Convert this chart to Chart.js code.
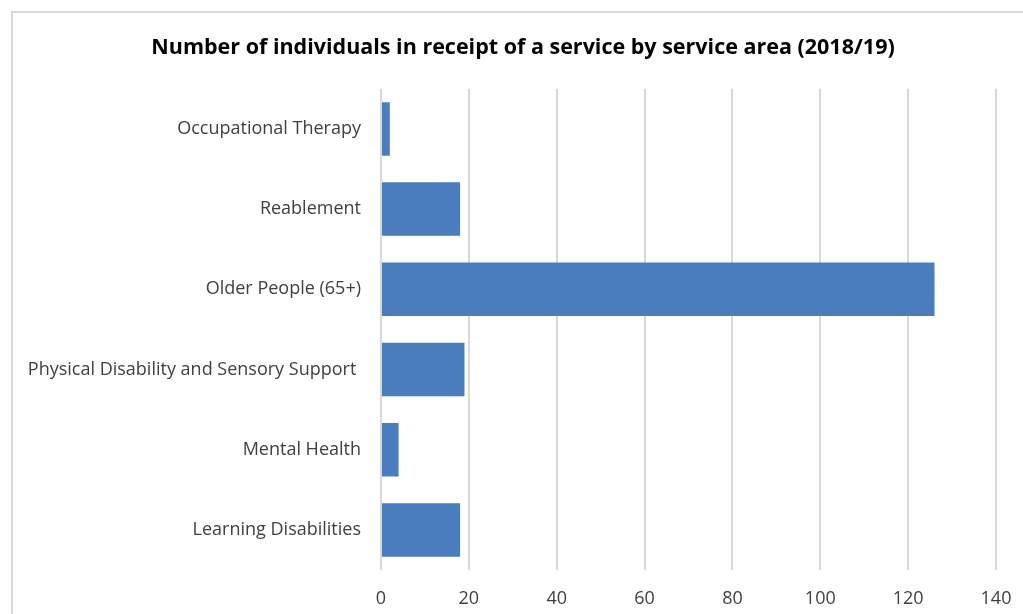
<!DOCTYPE html>
<html>
<head>
<meta charset="utf-8">
<script src="https://cdn.jsdelivr.net/npm/chart.js@4/dist/chart.umd.min.js"></script>
<style>
  html, body { margin: 0; padding: 0; background: #fff; }
  #wrap { position: relative; width: 1023px; height: 614px; }
</style>
</head>
<body>
<div id="wrap"><canvas id="serviceChart"></canvas></div>
<script>
const areas = [
    'Occupational Therapy',
    'Reablement',
    'Older People (65+)',
    'Physical Disability and Sensory Support ',
    'Mental Health',
    'Learning Disabilities'
];
const individuals = [2, 18, 126, 19, 4, 18];
const xTicks = [0, 20, 40, 60, 80, 100, 120, 140];

const fontFamily = '"Open Sans", "Liberation Sans", sans-serif';

// light grey frame round the chart, like an office chart object
const framePlugin = {
    id: 'frame',
    afterLayout(chart) {
        // centre the title on the frame rather than on the padded box
        if (chart.titleBlock) chart.titleBlock.left += 38;
    },
    beforeDraw(chart) {
        let c = chart.ctx;
        c.save();
        c.fillStyle = '#fff';
        c.fillRect(0, 0, chart.width, chart.height);
        c.strokeStyle = '#d9d9d9';
        c.lineWidth = 2;
        c.strokeRect(12, 12, chart.width + 10, chart.height + 10);
        c.restore();
    }
};

let ctx = document.querySelector('#serviceChart');
var chart = new Chart(ctx, {
    type: 'bar',
    data: {
        labels: areas,
        datasets: [{
            data: individuals,
            backgroundColor: '#4a7dbd',
            barPercentage: 0.667,
            categoryPercentage: 1
        }]
    },
    options: {
        indexAxis: 'y',
        responsive: true,
        maintainAspectRatio: false,
        animation: false,
        layout: { padding: { left: 12, right: 27, top: 0, bottom: 5 } },
        plugins: {
            legend: { display: false },
            tooltip: { enabled: false },
            title: {
                display: true,
                text: 'Number of individuals in receipt of a service by service area (2018/19)',
                color: '#000',
                font: { family: fontFamily, size: 21.5, weight: 'bold' },
                padding: { top: 35, bottom: 28 }
            }
        },
        scales: {
            x: {
                min: 0,
                max: 140,
                afterBuildTicks(scale) {
                    scale.ticks = xTicks.map(v => ({ value: v }));
                },
                afterFit(scale) {
                    scale.height = 39;
                    scale.paddingLeft = 0;
                    scale.paddingRight = 0;
                },
                grid: { color: '#d9d9d9', lineWidth: 2, drawTicks: false },
                border: { display: false },
                ticks: {
                    padding: 18,
                    color: '#404040',
                    font: { family: fontFamily, size: 18 }
                }
            },
            y: {
                afterFit(scale) { scale.width = 369; },
                grid: { display: false, drawTicks: false },
                border: { display: false },
                ticks: {
                    padding: 20,
                    color: '#404040',
                    font: { family: fontFamily, size: 18 }
                }
            }
        }
    },
    plugins: [framePlugin]
});
</script>
</body>
</html>
